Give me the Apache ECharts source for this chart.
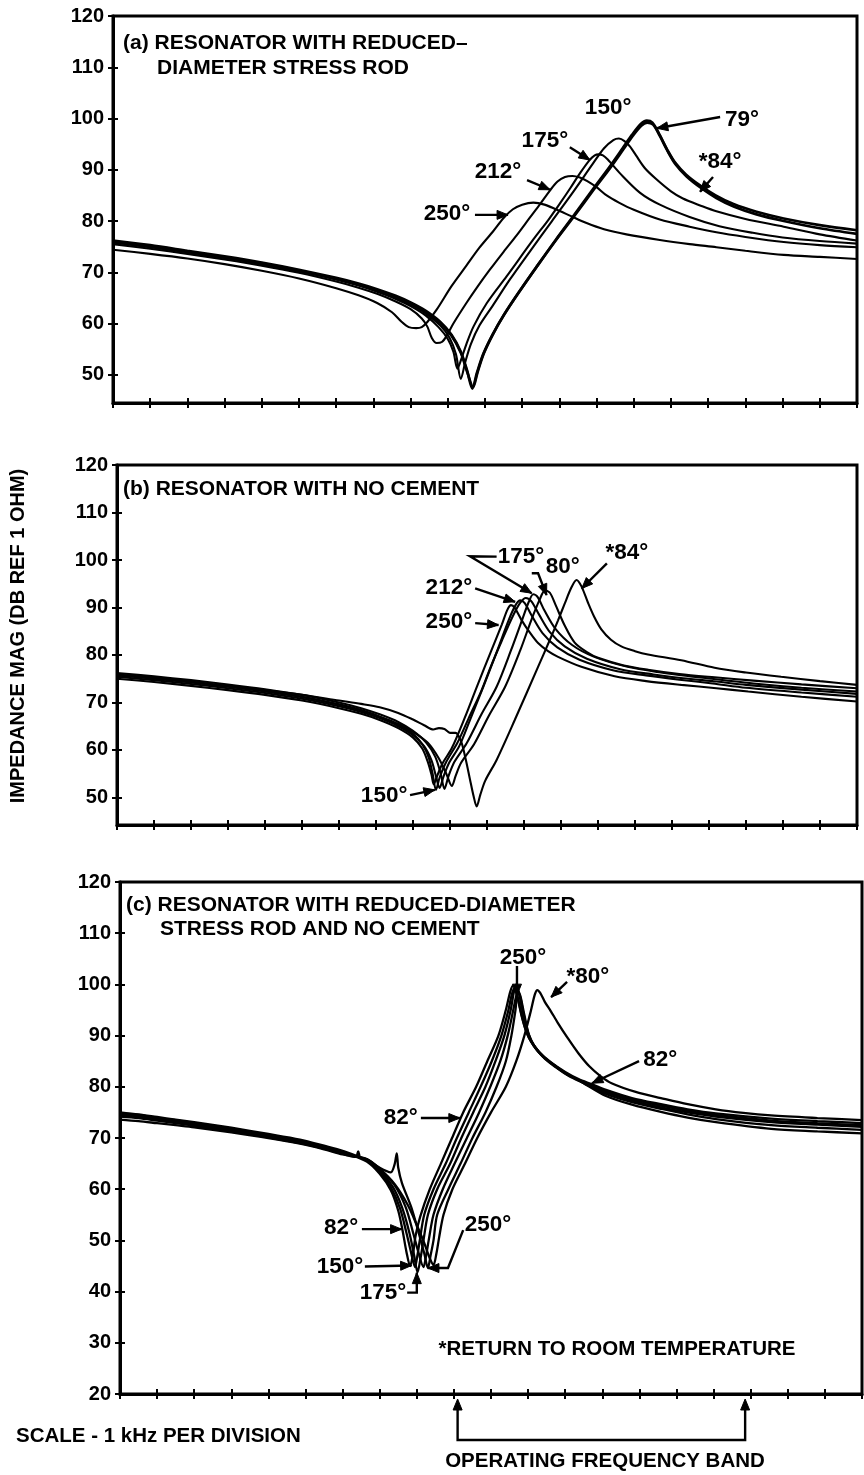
<!DOCTYPE html>
<html><head><meta charset="utf-8">
<script src="https://cdn.jsdelivr.net/npm/echarts@6/dist/echarts.min.js"></script>
<style>html,body{margin:0;padding:0;background:#fff}#c{width:864px;height:1475px}</style>
</head><body><div id="c"></div><script>
const FAM = '"Liberation Sans", Arial, Helvetica, sans-serif';

// ---------- tick labels ----------
const yTicksAB = [50, 60, 70, 80, 90, 100, 110, 120];
const yTicksC = [20, 30, 40, 50, 60, 70, 80, 90, 100, 110, 120];
const xTicks = [0,1,2,3,4,5,6,7,8,9,10,11,12,13,14,15,16,17,18,19,20];

// ---------- panel (a): reduced-diameter stress rod ----------
const a250 = [[0,74.4],[1,73.6],[2,72.7],[3,71.6],[4,70.3],[5,68.8],[6,66.9],[6.6,65.5],[7.1,64.0],[7.5,62.2],[7.75,60.4],[7.95,59.3],[8.15,59.1],[8.3,59.3],[8.45,60.3],[8.7,62.7],[9.1,67.3],[9.5,71.3],[9.85,74.8],[10.22,78.0],[10.5,80.6],[10.75,82.3],[11.0,83.2],[11.3,83.6],[11.6,83.2],[11.9,82.3],[12.3,81.0],[12.73,79.6],[13.2,78.4],[13.8,77.4],[14.7,76.3],[15.5,75.5],[16.22,74.9],[17,74.2],[18.03,73.4],[19,73.0],[20,72.6]];
const a212 = [[0,75.5],[1,74.6],[2,73.6],[3,72.5],[4,71.3],[5,69.9],[6,68.2],[6.6,67.0],[7.1,65.8],[7.6,64.3],[8.0,62.8],[8.3,61.0],[8.45,59.4],[8.57,57.2],[8.7,56.2],[8.84,56.4],[8.97,57.6],[9.15,60.0],[9.5,64.0],[9.8,67.2],[10.13,70.5],[10.5,74.0],[10.85,77.2],[11.2,80.6],[11.48,83.3],[11.75,86.0],[11.95,87.7],[12.15,88.6],[12.35,88.8],[12.55,88.5],[12.75,87.8],[13.0,86.6],[13.27,85.0],[13.6,83.6],[14.0,82.2],[14.7,80.3],[15.5,78.9],[16.22,77.8],[17,76.9],[18.03,75.9],[19,75.3],[20,74.9]];
const a175 = [[0,75.8],[1,74.9],[2,73.9],[3,72.8],[4,71.6],[5,70.2],[6,68.6],[6.6,67.4],[7.1,66.2],[7.6,64.8],[8.0,63.4],[8.4,61.6],[8.75,59.3],[9.0,57.0],[9.15,54.5],[9.26,51.2],[9.36,53.0],[9.5,56.0],[9.69,59.4],[10.05,64.0],[10.58,69.2],[11.3,76.4],[11.7,80.2],[12.02,83.5],[12.3,86.5],[12.55,89.3],[12.8,91.8],[12.95,92.8],[13.05,93.0],[13.17,92.8],[13.3,92.0],[13.63,89.3],[14.17,85.5],[14.7,83.2],[15.5,80.8],[16.3,79.0],[17.2,77.7],[18,76.8],[19,76.1],[20,75.6]];
const a150 = [[0,75.9],[1,75.0],[2,74.0],[3,72.9],[4,71.7],[5,70.3],[6,68.7],[6.6,67.6],[7.1,66.4],[7.6,65.0],[8.0,63.7],[8.4,62.0],[8.8,59.6],[9.05,57.2],[9.22,54.0],[9.35,49.2],[9.47,52.5],[9.62,56.0],[9.85,59.6],[10.2,63.4],[10.67,68.6],[11.2,74.0],[11.8,80.0],[12.4,86.0],[12.9,91.2],[13.2,94.2],[13.45,95.8],[13.6,96.1],[13.75,95.6],[13.9,94.5],[14.06,92.8],[14.3,90.3],[14.6,88.2],[15.0,85.8],[15.32,84.4],[15.8,83.0],[16.22,81.9],[17,80.4],[18.03,78.9],[19,77.4],[20,76.2]];
const a79 = [[0,76.2],[1,75.3],[2,74.2],[3,73.1],[4,71.9],[5,70.5],[6,68.9],[6.6,67.8],[7.1,66.7],[7.6,65.4],[8.0,64.1],[8.4,62.5],[8.8,60.3],[9.1,57.8],[9.35,54.5],[9.52,50.8],[9.66,47.3],[9.78,50.3],[9.95,54.0],[10.2,57.8],[10.5,61.6],[10.9,66.0],[11.4,71.2],[11.9,76.3],[12.4,81.2],[12.9,86.2],[13.35,90.6],[13.7,94.2],[13.95,96.8],[14.18,98.9],[14.35,99.6],[14.5,99.2],[14.68,97.0],[14.9,93.9],[15.1,91.5],[15.4,89.1],[15.77,87.0],[16.2,85.0],[16.68,83.3],[17.3,81.8],[18.03,80.5],[19,79.2],[20,78.2]];
const a84 = [[0,76.0],[1,75.1],[2,74.0],[3,72.9],[4,71.7],[5,70.3],[6,68.7],[6.6,67.6],[7.1,66.5],[7.6,65.2],[8.0,63.9],[8.4,62.3],[8.8,60.1],[9.1,57.6],[9.35,54.3],[9.52,50.6],[9.68,47.6],[9.8,50.5],[9.97,54.2],[10.22,58.0],[10.52,61.8],[10.92,66.2],[11.42,71.4],[11.92,76.4],[12.42,81.2],[12.92,86.1],[13.37,90.4],[13.72,94.0],[13.97,96.6],[14.2,98.6],[14.36,99.2],[14.52,98.8],[14.7,96.6],[14.92,93.5],[15.12,91.1],[15.42,88.7],[15.8,86.5],[16.22,84.5],[16.7,82.8],[17.3,81.3],[18.03,80.0],[19,78.6],[20,77.5]];

// ---------- panel (b): no cement ----------
const b250 = [[0,75.0],[1,74.3],[2,73.5],[3,72.6],[4,71.6],[5,70.4],[6,68.8],[6.6,67.6],[7.1,66.3],[7.6,64.6],[8.0,62.6],[8.25,60.3],[8.4,57.5],[8.5,54.8],[8.56,52.8],[8.65,54.5],[8.8,57.2],[9.05,60.4],[9.4,66.8],[9.72,73.2],[10.1,80.6],[10.4,86.4],[10.55,89.5],[10.65,90.5],[10.75,89.9],[10.93,87.4],[11.15,84.8],[11.38,82.5],[11.65,80.8],[11.92,79.6],[12.55,77.5],[13.45,75.5],[14.3,74.5],[15.25,73.7],[16.2,73.0],[17.06,72.3],[18.5,71.2],[20,70.2]];
const b150 = [[0,75.8],[1,75.1],[2,74.3],[3,73.4],[4,72.4],[5,71.2],[6,69.6],[6.6,68.4],[7.1,67.0],[7.6,65.3],[8.0,63.4],[8.25,61.2],[8.42,58.5],[8.53,55.0],[8.62,51.6],[8.72,54.2],[8.9,57.5],[9.2,61.5],[9.5,66.6],[9.85,72.5],[10.1,77.5],[10.4,83.0],[10.7,88.2],[10.9,91.0],[11.05,92.0],[11.2,91.3],[11.4,88.6],[11.7,84.8],[12.1,81.8],[12.7,79.2],[13.6,77.0],[14.5,75.9],[15.3,75.1],[16.2,74.4],[17,73.7],[18.5,72.7],[20,71.8]];
const b212 = [[0,75.4],[1,74.7],[2,73.9],[3,73.0],[4,72.0],[5,70.8],[6,69.2],[6.6,68.0],[7.1,66.7],[7.6,65.0],[8.0,63.1],[8.3,60.8],[8.5,57.8],[8.62,54.5],[8.72,52.0],[8.82,54.3],[8.97,57.2],[9.25,60.8],[9.55,66.5],[9.9,73.3],[10.3,81.4],[10.6,87.6],[10.78,90.6],[10.9,91.5],[11.02,90.9],[11.2,88.4],[11.5,84.6],[11.9,81.6],[12.5,79.0],[13.4,76.8],[14.3,75.7],[15.2,74.8],[16.1,74.0],[17,73.1],[18.5,72.1],[20,71.2]];
const b175 = [[0,76.2],[1,75.5],[2,74.7],[3,73.8],[4,72.8],[5,71.6],[6,70.0],[6.6,68.8],[7.1,67.5],[7.6,65.9],[8.0,64.0],[8.35,61.6],[8.6,58.6],[8.75,55.0],[8.85,51.8],[8.96,54.5],[9.12,57.5],[9.45,61.4],[9.85,67.5],[10.26,73.3],[10.65,81.0],[10.95,87.4],[11.13,91.2],[11.25,92.8],[11.37,92.2],[11.55,89.4],[11.85,85.5],[12.3,82.1],[12.9,79.6],[13.8,77.5],[14.7,76.3],[15.5,75.5],[16.3,74.8],[17.2,74.0],[18.5,73.1],[20,72.3]];
const b80 = [[0,75.7],[1,75.0],[2,74.2],[3,73.3],[4,72.3],[5,71.1],[6,69.5],[6.6,68.3],[7.1,67.0],[7.6,65.5],[8.0,63.8],[8.4,61.5],[8.7,58.2],[8.9,55.0],[9.05,52.4],[9.15,54.5],[9.3,57.3],[9.65,61.2],[10.05,67.2],[10.49,73.3],[10.9,81.0],[11.2,87.4],[11.42,91.6],[11.57,93.6],[11.7,93.1],[11.85,90.6],[12.1,86.2],[12.37,82.6],[12.7,80.6],[13.0,79.4],[13.7,77.8],[14.35,76.9],[15.2,76.0],[16.15,75.3],[17.2,74.6],[18.5,73.8],[20,73.0]];
const b84 = [[0,75.9],[1,75.2],[2,74.4],[3,73.5],[4,72.6],[5,71.6],[6,70.4],[6.6,69.7],[7.1,69.0],[7.6,67.8],[8.0,66.4],[8.3,65.2],[8.55,64.3],[8.7,64.6],[8.85,64.4],[9.0,63.6],[9.15,63.6],[9.3,61.8],[9.42,58.2],[9.54,53.8],[9.64,50.2],[9.72,48.1],[9.82,50.6],[9.95,53.5],[10.26,57.9],[10.75,66.3],[11.38,77.5],[11.7,83.2],[11.92,87.3],[12.1,90.8],[12.28,94.2],[12.42,95.8],[12.55,94.5],[12.73,91.0],[12.9,88.0],[13.09,85.4],[13.35,83.2],[13.63,81.8],[14.0,80.8],[14.35,80.1],[15.25,78.9],[16.15,77.3],[17.0,76.3],[17.95,75.4],[19,74.5],[20,73.7]];

// ---------- panel (c): reduced-diameter stress rod and no cement ----------
const c82 = [[0,74.8],[0.5,74.5],[1,73.9],[1.5,73.5],[2,72.9],[3,71.8],[4,70.6],[4.85,69.5],[5.5,68.3],[6.0,67.3],[6.65,65.4],[7.0,63.0],[7.3,59.8],[7.5,55.8],[7.62,51.8],[7.72,47.8],[7.82,45.0],[7.9,47.5],[7.97,51.0],[8.09,54.6],[8.35,60.0],[8.65,65.0],[8.95,70.0],[9.25,75.0],[9.6,80.0],[9.9,85.0],[10.2,90.0],[10.4,95.0],[10.52,98.6],[10.6,99.8],[10.68,98.6],[10.8,94.8],[10.92,91.5],[11.05,89.2],[11.3,86.8],[11.61,84.8],[12.0,82.9],[12.36,81.5],[12.72,80.5],[13.1,79.4],[13.8,77.8],[14.58,76.6],[15.3,75.6],[16.06,74.8],[17.55,73.8],[18.8,73.3],[20,72.9]];
const c150 = [[0,75.0],[0.5,74.6],[1,74.1],[1.5,73.6],[2,73.1],[3,72.0],[4,70.8],[4.85,69.7],[5.5,68.5],[6.0,67.5],[6.65,65.6],[7.0,63.4],[7.3,60.4],[7.55,56.2],[7.72,51.5],[7.85,47.5],[7.95,44.8],[8.02,47.2],[8.08,50.0],[8.2,55.0],[8.45,60.0],[8.78,65.0],[9.08,70.0],[9.4,75.0],[9.72,80.0],[10.02,85.0],[10.28,90.0],[10.47,95.0],[10.56,98.0],[10.63,99.3],[10.7,98.0],[10.82,94.0],[10.95,90.8],[11.1,88.6],[11.35,86.3],[11.65,84.5],[12.0,82.7],[12.4,81.2],[13.1,79.1],[13.8,77.6],[14.58,76.3],[15.3,75.3],[16.06,74.5],[17.55,73.4],[18.8,72.9],[20,72.5]];
const c175 = [[0,74.7],[0.5,74.4],[1,73.8],[1.5,73.4],[2,72.8],[3,71.7],[4,70.5],[4.85,69.4],[5.5,68.2],[6.0,67.2],[6.65,65.7],[7.0,63.6],[7.35,60.5],[7.6,56.5],[7.8,51.5],[7.93,47.0],[8.02,43.8],[8.1,46.5],[8.18,50.0],[8.3,55.0],[8.55,60.0],[8.9,65.0],[9.2,70.0],[9.52,75.0],[9.85,80.0],[10.12,85.0],[10.36,90.0],[10.53,95.0],[10.62,98.6],[10.68,100.0],[10.75,98.4],[10.86,94.5],[11.0,90.4],[11.15,88.0],[11.4,85.9],[11.7,84.2],[12.05,82.4],[12.45,81.0],[13.1,78.9],[13.8,77.3],[14.58,76.0],[15.3,75.0],[16.06,74.2],[17.55,73.1],[18.8,72.6],[20,72.2]];
const c212 = [[0,74.5],[0.5,74.2],[1,73.6],[1.5,73.2],[2,72.6],[3,71.5],[4,70.3],[4.85,69.2],[5.5,68.0],[6.0,67.0],[6.65,65.8],[7.0,63.8],[7.4,60.8],[7.7,56.5],[7.9,51.5],[8.05,47.5],[8.18,44.8],[8.25,47.0],[8.32,50.0],[8.45,55.0],[8.7,60.0],[9.02,65.0],[9.35,70.0],[9.68,75.0],[9.98,80.0],[10.25,85.0],[10.45,90.0],[10.6,95.0],[10.68,97.8],[10.73,98.8],[10.8,97.5],[10.9,94.0],[11.03,90.0],[11.2,87.6],[11.45,85.5],[11.75,83.8],[12.1,82.1],[12.5,80.7],[13.1,78.6],[13.8,77.0],[14.58,75.7],[15.3,74.6],[16.06,73.7],[17.55,72.5],[18.8,72.0],[20,71.6]];
const c250 = [[0,74.2],[0.5,73.9],[1,73.4],[1.5,72.9],[2,72.4],[3,71.3],[4,70.1],[4.85,69.0],[5.5,67.9],[6.0,66.9],[6.36,66.3],[6.42,67.4],[6.48,66.1],[6.65,65.9],[7.0,64.2],[7.3,63.3],[7.4,64.8],[7.46,67.0],[7.5,64.2],[7.6,61.2],[7.85,56.5],[8.05,51.5],[8.2,47.5],[8.3,44.6],[8.37,47.0],[8.45,50.0],[8.55,55.0],[8.85,60.0],[9.18,65.0],[9.5,70.0],[9.85,75.0],[10.15,80.0],[10.4,85.0],[10.55,90.0],[10.66,95.0],[10.72,98.3],[10.78,97.8],[10.88,94.2],[11.0,90.6],[11.15,88.2],[11.4,86.0],[11.7,84.2],[12.05,82.5],[12.45,80.9],[13.1,78.2],[13.8,76.5],[14.58,75.1],[15.3,74.0],[16.06,73.1],[17.55,71.8],[18.8,71.3],[20,70.9]];
const c80 = [[0,73.6],[0.5,73.3],[1,72.9],[1.5,72.5],[2,72.1],[3,71.1],[4,70.0],[4.85,68.9],[5.5,67.8],[6.0,66.8],[6.65,65.9],[7.0,64.0],[7.4,61.0],[7.75,57.0],[8.0,53.0],[8.2,49.5],[8.35,46.5],[8.45,45.2],[8.53,47.5],[8.6,50.5],[8.72,55.0],[8.96,60.0],[9.3,65.0],[9.63,70.0],[10.0,75.0],[10.4,80.0],[10.68,85.0],[10.9,90.0],[11.08,95.0],[11.18,98.0],[11.25,98.9],[11.33,98.3],[11.45,96.6],[11.61,94.8],[11.8,92.5],[12.06,89.6],[12.35,86.6],[12.65,84.0],[12.95,82.1],[13.25,80.7],[13.9,79.0],[14.58,77.8],[15.3,76.6],[16.06,75.6],[16.8,74.9],[17.55,74.4],[18.8,73.9],[20,73.5]];

// ---------- annotations (data coordinates of each panel) ----------
const labelsA = [
  {text:'150°', at:[13.31,102.0]},
  {text:'79°', at:[16.91,99.7], arrow:[[16.32,100.3],[14.62,98.1]]},
  {text:'175°', at:[11.61,95.6], arrow:[[12.28,94.4],[12.82,91.9]]},
  {text:'*84°', at:[16.32,91.5], arrow:[[16.13,88.6],[15.78,85.7]]},
  {text:'212°', at:[10.35,89.6], arrow:[[11.13,88.0],[11.75,86.1]]},
  {text:'250°', at:[8.98,81.4], arrow:[[9.73,81.2],[10.62,81.2]]}
];
const labelsB = [
  {text:'175°', at:[10.92,100.6], arrow:[[10.26,100.7],[9.54,100.8],[11.21,93.0]]},
  {text:'80°', at:[12.05,98.5], arrow:[[11.21,97.2],[11.38,97.2],[11.61,92.6]]},
  {text:'*84°', at:[13.78,101.5], arrow:[[13.24,99.3],[12.56,94.0]]},
  {text:'212°', at:[8.97,94.1], arrow:[[9.68,94.0],[10.76,91.2]]},
  {text:'250°', at:[8.97,86.9], arrow:[[9.68,86.7],[10.31,86.3]]},
  {text:'150°', at:[7.22,50.3], arrow:[[7.92,50.5],[8.59,51.6]]}
];
const labelsC = [
  {text:'250°', at:[10.86,105.2], arrow:[[10.7,103.6],[10.7,97.9]]},
  {text:'*80°', at:[12.61,101.4], arrow:[[12.05,100.5],[11.62,97.5]]},
  {text:'82°', at:[14.56,85.2], arrow:[[13.99,85.0],[12.72,80.7]]},
  {text:'82°', at:[7.57,73.9], arrow:[[8.11,73.9],[9.16,73.9]]},
  {text:'82°', at:[5.96,52.4], arrow:[[6.52,52.2],[7.59,52.2]]},
  {text:'150°', at:[5.93,44.8], arrow:[[6.6,44.9],[7.86,45.1]]},
  {text:'175°', at:[7.09,39.8], arrow:[[7.74,39.8],[8.0,39.8],[8.0,43.7]]},
  {text:'250°', at:[9.92,53.0], arrow:[[9.25,52.0],[8.84,44.6],[8.3,44.6]]}
];
const bandStart = 9.1, bandEnd = 16.85;

// ---------- layout ----------
const grids = [
  {left:113, top:16, width:744, height:387, show:true, borderColor:'#000', borderWidth:3, backgroundColor:'transparent'},
  {left:117, top:465, width:740, height:360, show:true, borderColor:'#000', borderWidth:3, backgroundColor:'transparent'},
  {left:120, top:882, width:742, height:512, show:true, borderColor:'#000', borderWidth:3, backgroundColor:'transparent'}
];
const yMins = [44.5, 44.2, 20];
const yTickSets = [yTicksAB, yTicksAB, yTicksC];

const xAxes = [], yAxes = [];
for (let g = 0; g < 3; g++) {
  const baseX = {type:'value', gridIndex:g, min:0, max:20, interval:1, position:'bottom',
    axisLabel:{show:false}, splitLine:{show:false}};
  xAxes.push(Object.assign({}, baseX, {
    axisLine:{show:true, onZero:false, lineStyle:{color:'#000', width:3}},
    axisTick:{show:true, length:5, customValues:xTicks, lineStyle:{color:'#000', width:2}}
  }));
  xAxes.push(Object.assign({}, baseX, {
    axisLine:{show:false, onZero:false},
    axisTick:{show:true, inside:true, length:5, customValues:xTicks, lineStyle:{color:'#000', width:2}}
  }));
  const baseY = {type:'value', gridIndex:g, min:yMins[g], max:120, position:'left', splitLine:{show:false}};
  yAxes.push(Object.assign({}, baseY, {
    axisLine:{show:true, onZero:false, lineStyle:{color:'#000', width:3}},
    axisTick:{show:true, length:5, customValues:yTickSets[g], lineStyle:{color:'#000', width:2}},
    axisLabel:{show:true, customValues:yTickSets[g], margin:9, color:'#000', fontFamily:FAM, fontWeight:'bold', fontSize:20}
  }));
  yAxes.push(Object.assign({}, baseY, {
    axisLine:{show:false, onZero:false},
    axisTick:{show:true, inside:true, length:5, customValues:yTickSets[g], lineStyle:{color:'#000', width:2}},
    axisLabel:{show:false}
  }));
}

function line(name, data, g, w) {
  return {name, type:'line', data, xAxisIndex:g*2, yAxisIndex:g*2, showSymbol:false, symbol:'none',
    smooth:0.3, silent:true, lineStyle:{color:'#000', width:w}, emphasis:{disabled:true}};
}
const series = [
  line('a 250°', a250, 0, 2.1), line('a 212°', a212, 0, 2.1), line('a 175°', a175, 0, 2.1),
  line('a 150°', a150, 0, 2.1), line('a 79°', a79, 0, 2.7), line('a *84°', a84, 0, 2.7),
  line('b 250°', b250, 1, 2.1), line('b 150°', b150, 1, 2.1), line('b 212°', b212, 1, 2.1),
  line('b 175°', b175, 1, 2.1), line('b 80°', b80, 1, 2.1), line('b *84°', b84, 1, 2.1),
  line('c 82°', c82, 2, 2.3), line('c 150°', c150, 2, 2.3), line('c 175°', c175, 2, 2.3),
  line('c 212°', c212, 2, 2.3), line('c 250°', c250, 2, 2.3), line('c *80°', c80, 2, 2.3)
];

const chart = echarts.init(document.getElementById('c'), null, {renderer:'canvas'});
chart.setOption({
  backgroundColor:'#fff', animation:false,
  grid: grids, xAxis: xAxes, yAxis: yAxes, series
});

// ---------- annotations via the library's coordinate conversion ----------
const LBL = 'bold 22.5px ' + FAM;
const TTL = 'bold 21px ' + FAM;
const TXT = 'bold 20.5px ' + FAM;
function toPx(g, p) { return chart.convertToPixel({xAxisIndex:g*2, yAxisIndex:g*2}, p); }
function text(str, x, y, font, align, rot) {
  return {type:'text', x, y, rotation: rot || 0, silent:true, z:10,
    style:{text:str, font, fill:'#000', align: align || 'center', verticalAlign:'middle',
      textAlign: align || 'center', textVerticalAlign:'middle'}};
}
function arrowEls(pts) {
  const els = [];
  els.push({type:'polyline', silent:true, z:10, shape:{points:pts}, style:{stroke:'#000', lineWidth:2.4, fill:null}});
  const t = pts[pts.length-1], p = pts[pts.length-2];
  const dx = t[0]-p[0], dy = t[1]-p[1], L = Math.hypot(dx, dy) || 1;
  const ux = dx/L, uy = dy/L, H = 11, W = 4.5;
  const bx = t[0]-ux*H, by = t[1]-uy*H;
  els.push({type:'polygon', silent:true, z:10, shape:{points:[[t[0],t[1]],[bx-uy*W, by+ux*W],[bx+uy*W, by-ux*W]]},
    style:{fill:'#000', stroke:'#000', lineWidth:1}});
  return els;
}
const els = [];
[labelsA, labelsB, labelsC].forEach((list, g) => {
  list.forEach(l => {
    const c = toPx(g, l.at);
    els.push(text(l.text, c[0], c[1], LBL, 'center'));
    if (l.arrow) {
      const pts = l.arrow.map(p => toPx(g, p));
      arrowEls(pts).forEach(e => els.push(e));
    }
  });
});
// panel titles
els.push(text('(a) RESONATOR WITH REDUCED–', 123, 43, TTL, 'left'));
els.push(text('DIAMETER STRESS ROD', 157, 68, TTL, 'left'));
els.push(text('(b) RESONATOR WITH NO CEMENT', 123, 489, TTL, 'left'));
els.push(text('(c) RESONATOR WITH REDUCED-DIAMETER', 126, 905, TTL, 'left'));
els.push(text('STRESS ROD AND NO CEMENT', 160, 929, TTL, 'left'));
// y axis title
els.push(text('IMPEDANCE MAG (DB REF 1 OHM)', 18, 636, 'bold 20px ' + FAM, 'center', Math.PI/2));
// note + bottom texts
els.push(text('*RETURN TO ROOM TEMPERATURE', 617, 1349, TXT, 'center'));
els.push(text('SCALE - 1 kHz PER DIVISION', 16, 1436, TXT, 'left'));
els.push(text('OPERATING FREQUENCY BAND', 605, 1461, TXT, 'center'));
// operating band bracket
const s = toPx(2, [bandStart, 20]), e = toPx(2, [bandEnd, 20]);
const yb = s[1] + 46, yt = s[1] + 5;
els.push({type:'polyline', silent:true, z:10, shape:{points:[[s[0], yt+8],[s[0], yb],[e[0], yb],[e[0], yt+8]]},
  style:{stroke:'#000', lineWidth:2.4, fill:null}});
arrowEls([[s[0], yb], [s[0], yt]]).slice(1).forEach(x => els.push(x));
arrowEls([[e[0], yb], [e[0], yt]]).slice(1).forEach(x => els.push(x));

chart.setOption({graphic: els});
</script></body></html>
